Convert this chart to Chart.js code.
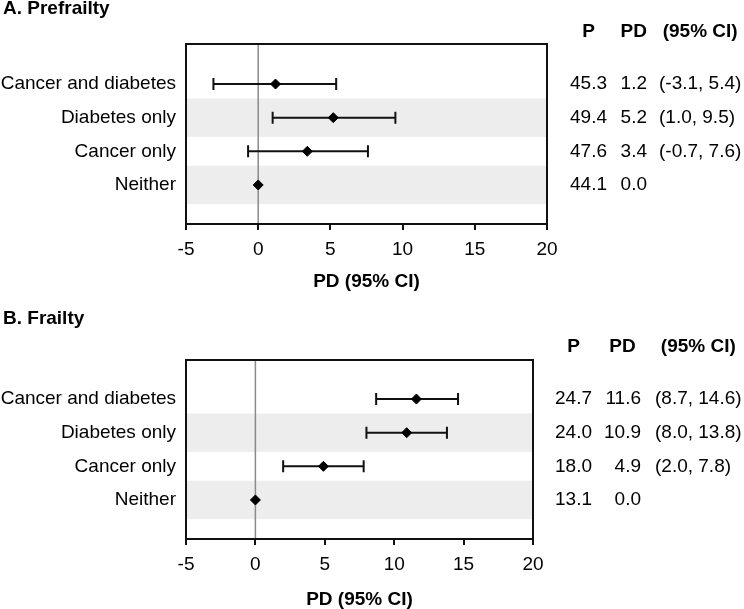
<!DOCTYPE html>
<html>
<head>
<meta charset="utf-8">
<script src="https://cdn.jsdelivr.net/npm/chart.js@4.4.1/dist/chart.umd.min.js"></script>
<style>
  body { margin: 0; background: #fff; }
  #wrap { position: relative; width: 744px; height: 609px; }
  canvas { position: absolute; left: 0; }
</style>
</head>
<body>
<div id="wrap">
  <canvas id="prefrailtyChart" width="744" height="300" style="top:0"></canvas>
  <canvas id="frailtyChart" width="744" height="309" style="top:300px"></canvas>
</div>
<script>
const categories = ['Cancer and diabetes', 'Diabetes only', 'Cancer only', 'Neither']
const xTicks = [-5, 0, 5, 10, 15, 20]
const tableHeaders = ['P', 'PD', '(95% CI)']
const axisTitle = 'PD (95% CI)'

// A. Prefrailty
const prefrailP = [45.3, 49.4, 47.6, 44.1]
const prefrailPD = [1.2, 5.2, 3.4, 0.0]
const prefrailLow = [-3.1, 1.0, -0.7, null]
const prefrailHigh = [5.4, 9.5, 7.6, null]

// B. Frailty
const frailP = [24.7, 24.0, 18.0, 13.1]
const frailPD = [11.6, 10.9, 4.9, 0.0]
const frailLow = [8.7, 8.0, 2.0, null]
const frailHigh = [14.6, 13.8, 7.8, null]

const FONT = "'Liberation Sans', Arial, Helvetica, sans-serif"

const makePanel = (canvasId, panel) => {
  const forest = {
    id: 'forest',
    beforeDatasetsDraw(chart) {
      const { ctx, chartArea: a, scales: { x, y } } = chart
      ctx.save()
      // shaded rows
      ctx.fillStyle = '#ededed'
      ;[1, 3].forEach(i => {
        const t = y.getPixelForValue(i - 0.57)
        const b = y.getPixelForValue(i + 0.57)
        ctx.fillRect(a.left, t, a.right - a.left, b - t)
      })
      // reference line at 0
      const x0 = x.getPixelForValue(0)
      ctx.strokeStyle = '#8a8a8a'
      ctx.lineWidth = 1.5
      ctx.beginPath()
      ctx.moveTo(x0, a.top)
      ctx.lineTo(x0, a.bottom)
      ctx.stroke()
      // confidence intervals
      ctx.strokeStyle = '#111'
      ctx.lineWidth = 2
      panel.low.forEach((lo, i) => {
        if (lo === null) return
        const py = y.getPixelForValue(i)
        const l = x.getPixelForValue(lo)
        const r = x.getPixelForValue(panel.high[i])
        ctx.beginPath()
        ctx.moveTo(l, py); ctx.lineTo(r, py)
        ctx.moveTo(l, py - 6); ctx.lineTo(l, py + 6)
        ctx.moveTo(r, py - 6); ctx.lineTo(r, py + 6)
        ctx.stroke()
      })
      ctx.restore()
    },
    afterDraw(chart) {
      const { ctx, chartArea: a, scales: { y } } = chart
      ctx.save()
      ctx.strokeStyle = '#111'
      ctx.lineWidth = 2
      ctx.strokeRect(a.left, a.top, a.right - a.left, a.bottom - a.top)

      ctx.fillStyle = '#000'
      ctx.textBaseline = 'middle'
      ctx.font = `bold 19px ${FONT}`
      ctx.textAlign = 'left'
      ctx.fillText(panel.title, 3, panel.titleY)
      ctx.textAlign = 'center'
      ctx.fillText(axisTitle, (a.left + a.right) / 2, a.bottom + panel.axisTitleOffset)

      // table on the right
      const pText = panel.p.map(v => v.toFixed(1))
      const pdText = panel.pd.map(v => v.toFixed(1))
      const ciText = panel.low.map((lo, i) => lo === null ? '' : `(${lo.toFixed(1)}, ${panel.high[i].toFixed(1)})`)
      ctx.font = `19px ${FONT}`
      const widest = arr => Math.max(...arr.map(t => ctx.measureText(t).width))
      const wP = widest(pText), wPD = widest(pdText), wCI = widest(ciText)
      ctx.textAlign = 'right'
      categories.forEach((c, i) => {
        const py = y.getPixelForValue(i)
        ctx.fillText(pText[i], panel.pRight, py)
        ctx.fillText(pdText[i], panel.pdRight, py)
      })
      ctx.textAlign = 'left'
      categories.forEach((c, i) => {
        ctx.fillText(ciText[i], panel.ciLeft, y.getPixelForValue(i))
      })
      ctx.font = `bold 19px ${FONT}`
      ctx.textAlign = 'center'
      const hy = y.getPixelForValue(-1.55)
      ctx.fillText(tableHeaders[0], panel.pRight - wP / 2, hy)
      ctx.fillText(tableHeaders[1], panel.pdRight - wPD / 2, hy)
      ctx.fillText(tableHeaders[2], panel.ciLeft + wCI / 2, hy)
      ctx.restore()
    }
  }

  const canvas = document.getElementById(canvasId)
  return new Chart(canvas, {
    type: 'scatter',
    data: {
      datasets: [{
        data: panel.pd.map((v, i) => ({ x: v, y: i })),
        pointStyle: 'rectRot',
        pointRadius: 5,
        pointHoverRadius: 5,
        backgroundColor: '#000',
        borderColor: '#000',
        borderWidth: 1
      }]
    },
    options: {
      responsive: false,
      animation: false,
      events: [],
      layout: {
        padding: { top: panel.top, right: canvas.width - panel.right, bottom: 0, left: 0 }
      },
      plugins: {
        legend: { display: false },
        tooltip: { enabled: false }
      },
      scales: {
        x: {
          type: 'linear',
          min: xTicks[0],
          max: xTicks[xTicks.length - 1],
          afterBuildTicks: s => { s.ticks = xTicks.map(v => ({ value: v })) },
          afterFit: s => { s.height = canvas.height - panel.bottom },
          grid: { drawOnChartArea: false, drawTicks: true, tickLength: 6, color: '#111', lineWidth: 2 },
          border: { display: true, color: '#111', width: 2 },
          ticks: { color: '#000', padding: 8, font: { family: FONT, size: 19 } }
        },
        y: {
          type: 'linear',
          reverse: true,
          min: panel.yMin,
          max: panel.yMax,
          afterBuildTicks: s => { s.ticks = categories.map((c, i) => ({ value: i })) },
          afterFit: s => { s.width = panel.left },
          grid: { display: false, drawTicks: false },
          border: { display: false },
          ticks: {
            color: '#000',
            padding: 10,
            font: { family: FONT, size: 19 },
            callback: v => categories[v]
          }
        }
      }
    },
    plugins: [forest]
  })
}

makePanel('prefrailtyChart', {
  title: 'A. Prefrailty', titleY: 9, axisTitleOffset: 58,
  top: 44, bottom: 224, left: 186, right: 547, yMin: -1.19, yMax: 4.16,
  p: prefrailP, pd: prefrailPD, low: prefrailLow, high: prefrailHigh,
  pRight: 607, pdRight: 647, ciLeft: 659
})

makePanel('frailtyChart', {
  title: 'B. Frailty', titleY: 19, axisTitleOffset: 61,
  top: 60, bottom: 239, left: 186, right: 533, yMin: -1.16, yMax: 4.16,
  p: frailP, pd: frailPD, low: frailLow, high: frailHigh,
  pRight: 592, pdRight: 641, ciLeft: 655
})
</script>
</body>
</html>
